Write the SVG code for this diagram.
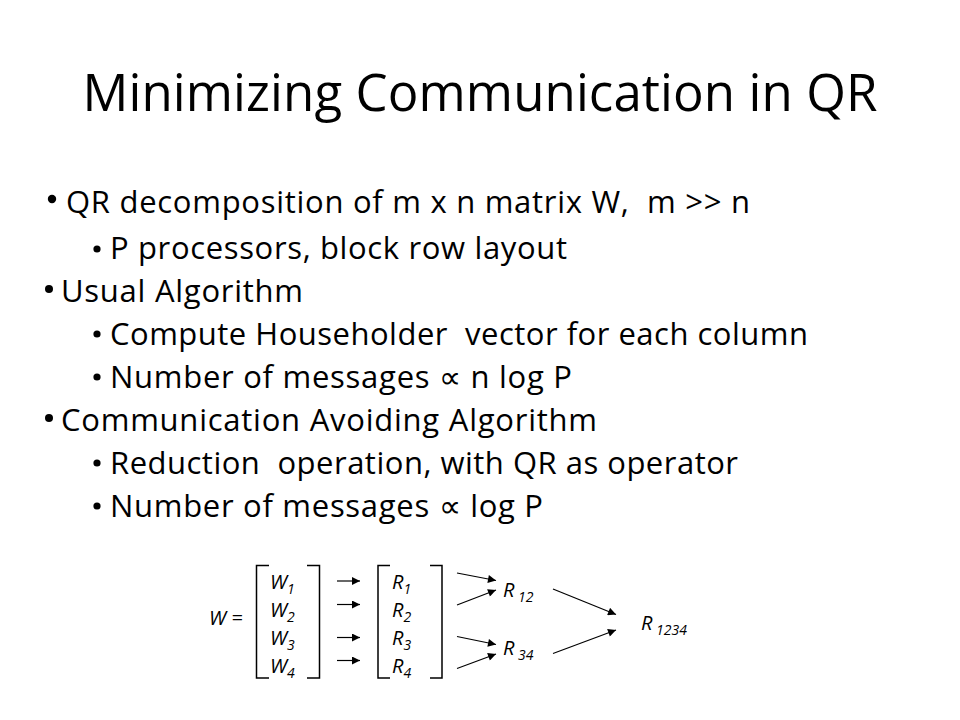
<svg xmlns="http://www.w3.org/2000/svg" width="960" height="720" viewBox="0 0 960 720">
<defs>
<style>
.title{font-family:"Open Sans","Noto Sans","Liberation Sans",sans-serif;font-size:51px;fill:#000}
.body{font-family:"Open Sans","Noto Sans","Liberation Sans",sans-serif;font-size:31px;fill:#000}
.m{font-family:"Open Sans","Noto Sans","Liberation Sans",sans-serif;font-size:20px;font-style:italic;fill:#000}
.s{font-size:14px}
.br{fill:none;stroke:#000;stroke-width:1.5}
.ar{fill:none;stroke:#000;stroke-width:1.2;marker-end:url(#ah)}
</style>
<marker id="ah" viewBox="0 0 10 10" refX="10" refY="5" markerWidth="9" markerHeight="8" markerUnits="userSpaceOnUse" orient="auto">
<path d="M0,0 L10,5 L0,10 z" fill="#000"/>
</marker>
</defs>
<rect width="960" height="720" fill="#fff"/>
<g id="title">
<text class="title" x="480" y="111" text-anchor="middle" textLength="795">Minimizing Communication in QR</text>
</g>
<g id="bullets">
<circle cx="52" cy="199" r="4.2"/>
<text class="body" x="66" y="213" textLength="684" xml:space="preserve">QR decomposition of m x n matrix W,  m &gt;&gt; n</text>
<circle cx="97" cy="249" r="3.6"/>
<text class="body" x="110" y="259" textLength="457">P processors, block row layout</text>
<circle cx="49" cy="289" r="4"/>
<text class="body" x="61" y="302" textLength="242">Usual Algorithm</text>
<circle cx="97" cy="334" r="3.6"/>
<text class="body" x="110" y="345" textLength="698" xml:space="preserve">Compute Householder  vector for each column</text>
<circle cx="97" cy="377" r="3.6"/>
<text class="body" x="110" y="388" textLength="462">Number of messages ∝ n log P</text>
<circle cx="49" cy="418" r="4"/>
<text class="body" x="61" y="431" textLength="536">Communication Avoiding Algorithm</text>
<circle cx="97" cy="463" r="3.6"/>
<text class="body" x="110" y="474" textLength="628" xml:space="preserve">Reduction  operation, with QR as operator</text>
<circle cx="97" cy="506" r="3.6"/>
<text class="body" x="110" y="517" textLength="433">Number of messages ∝ log P</text>
</g>
<g id="W-eq">
<text class="m" x="209" y="625">W =</text>
</g>
<g id="W-matrix">
<path class="br" d="M269,565.5 H256.5 V678 H269"/>
<path class="br" d="M307,565.5 H319.5 V678 H307"/>
<text class="m" x="270" y="589">W<tspan class="s" dy="5">1</tspan></text>
<text class="m" x="270" y="617">W<tspan class="s" dy="5">2</tspan></text>
<text class="m" x="270" y="645">W<tspan class="s" dy="5">3</tspan></text>
<text class="m" x="270" y="672.5">W<tspan class="s" dy="5">4</tspan></text>
</g>
<g id="R-matrix">
<path class="br" d="M390,565.5 H378 V678 H390"/>
<path class="br" d="M430,565.5 H442 V678 H430"/>
<text class="m" x="392" y="589">R<tspan class="s" dy="5">1</tspan></text>
<text class="m" x="392" y="617">R<tspan class="s" dy="5">2</tspan></text>
<text class="m" x="392" y="645">R<tspan class="s" dy="5">3</tspan></text>
<text class="m" x="392" y="672.5">R<tspan class="s" dy="5">4</tspan></text>
</g>
<g id="R12">
<text class="m" x="503" y="597">R<tspan class="s" dy="5"> 12</tspan></text>
</g>
<g id="R34">
<text class="m" x="503" y="655">R<tspan class="s" dy="5"> 34</tspan></text>
</g>
<g id="R1234">
<text class="m" x="641" y="630">R<tspan class="s" dy="5"> 1234</tspan></text>
</g>
<g id="connectors">
<line class="ar" x1="337" y1="581" x2="360" y2="581"/>
<line class="ar" x1="337" y1="604.5" x2="360" y2="604.5"/>
<line class="ar" x1="337" y1="637.5" x2="360" y2="637.5"/>
<line class="ar" x1="337" y1="660.5" x2="360" y2="660.5"/>
<line class="ar" x1="457" y1="573" x2="496" y2="580.5"/>
<line class="ar" x1="457" y1="605" x2="496" y2="590"/>
<line class="ar" x1="457" y1="636.5" x2="496" y2="644.5"/>
<line class="ar" x1="457" y1="668.5" x2="496" y2="654"/>
<line class="ar" x1="553" y1="589" x2="616" y2="614.5"/>
<line class="ar" x1="553" y1="653.5" x2="616" y2="630"/>
</g>
</svg>
